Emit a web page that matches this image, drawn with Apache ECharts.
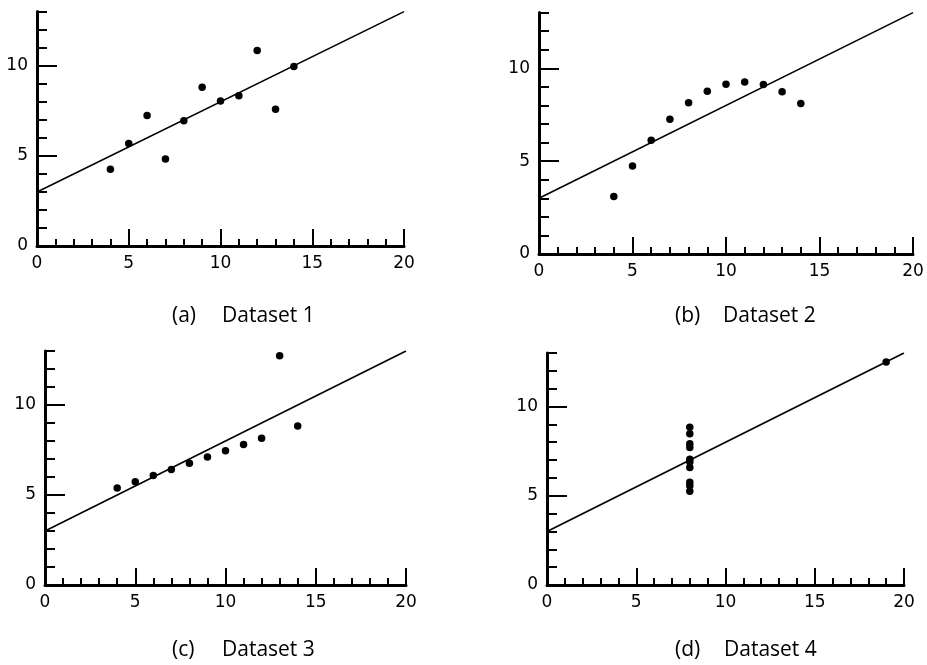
<!DOCTYPE html>
<html>
<head>
<meta charset="utf-8">
<script src="https://cdn.jsdelivr.net/npm/echarts@6/dist/echarts.min.js"></script>
<style>
html,body{margin:0;padding:0;background:#fff;}
#main{width:927px;height:665px;}
</style>
</head>
<body>
<div id="main"></div>
<script>
// Anscombe's quartet values
var x123 = [10, 8, 13, 9, 11, 14, 6, 4, 12, 7, 5];
var y1 = [8.04, 6.95, 7.58, 8.81, 8.33, 9.96, 7.24, 4.26, 10.84, 4.82, 5.68];
var y2 = [9.14, 8.14, 8.74, 8.77, 9.26, 8.10, 6.13, 3.10, 9.13, 7.26, 4.74];
var y3 = [7.46, 6.77, 12.74, 7.11, 7.81, 8.84, 6.08, 5.39, 8.15, 6.42, 5.73];
var x4 = [8, 8, 8, 8, 8, 8, 8, 19, 8, 8, 8];
var y4 = [6.58, 5.76, 7.71, 8.84, 8.47, 7.04, 5.25, 12.50, 5.56, 7.91, 6.89];
var fitX = [0, 20];
var fitY = [3, 13];
var xTicks = [0, 5, 10, 15, 20];
var yTicks = [0, 5, 10];
var labels = ['(a)', '(b)', '(c)', '(d)'];
var titles = ['Dataset 1', 'Dataset 2', 'Dataset 3', 'Dataset 4'];

var panels = [
  {x: x123, y: y1},
  {x: x123, y: y2},
  {x: x123, y: y3},
  {x: x4, y: y4}
];
var grids = [
  {left: 37, top: 11.6, width: 367, height: 234.4},
  {left: 539, top: 12.6, width: 374, height: 241.4},
  {left: 45, top: 351, width: 361, height: 234},
  {left: 547, top: 353, width: 357, height: 232}
];
var captionPos = [
  {a: 172, b: 222, y: 316},
  {a: 675, b: 723, y: 316},
  {a: 172, b: 222, y: 650},
  {a: 675, b: 724, y: 650}
];

function pairs(xs, ys) {
  return xs.map(function (v, i) { return [v, ys[i]]; });
}

var xAxes = [], yAxes = [], series = [], graphics = [];
var labelFont = {color: '#000', fontSize: 17, fontFamily: 'DejaVu Sans'};
grids.forEach(function (g, i) {
  xAxes.push({
    gridIndex: i, type: 'value', position: 'bottom', min: 0, max: 20, interval: 5,
    splitLine: {show: false},
    axisLine: {show: true, onZero: false, lineStyle: {color: '#000', width: 3}},
    axisTick: {show: true, inside: true, length: 17, customValues: xTicks, lineStyle: {color: '#000', width: 2}},
    axisLabel: Object.assign({margin: 9, customValues: xTicks}, labelFont)
  });
  xAxes.push({
    gridIndex: i, type: 'value', position: 'bottom', min: 0, max: 20, interval: 1,
    splitLine: {show: false},
    axisLine: {show: false, onZero: false},
    axisTick: {show: true, inside: true, length: 7, lineStyle: {color: '#000', width: 2}},
    axisLabel: {show: false}
  });
  yAxes.push({
    gridIndex: i, type: 'value', position: 'left', min: 0, max: 13, interval: 5,
    splitLine: {show: false},
    axisLine: {show: true, onZero: false, lineStyle: {color: '#000', width: 3}},
    axisTick: {show: true, inside: true, length: 20, customValues: yTicks, lineStyle: {color: '#000', width: 2}},
    axisLabel: Object.assign({margin: 9, customValues: yTicks}, labelFont)
  });
  yAxes.push({
    gridIndex: i, type: 'value', position: 'left', min: 0, max: 13, interval: 1,
    splitLine: {show: false},
    axisLine: {show: false, onZero: false},
    axisTick: {show: true, inside: true, length: 10, lineStyle: {color: '#000', width: 2}},
    axisLabel: {show: false}
  });
  series.push({
    type: 'line', xAxisIndex: 2 * i, yAxisIndex: 2 * i,
    data: pairs(fitX, fitY), showSymbol: false, silent: true,
    lineStyle: {color: '#000', width: 1.6}
  });
  series.push({
    type: 'scatter', xAxisIndex: 2 * i, yAxisIndex: 2 * i,
    data: pairs(panels[i].x, panels[i].y), symbolSize: 7.5,
    itemStyle: {color: '#000', opacity: 1}
  });
  var c = captionPos[i];
  graphics.push({
    type: 'text', x: c.a, y: c.y,
    style: {text: labels[i], fill: '#000', font: '21px "Open Sans"', verticalAlign: 'middle'}
  });
  graphics.push({
    type: 'text', x: c.b, y: c.y,
    style: {text: titles[i], fill: '#000', font: '21px "Open Sans"', verticalAlign: 'middle'}
  });
});

var chart = echarts.init(document.getElementById('main'), null, {renderer: 'canvas'});
chart.setOption({
  animation: false,
  backgroundColor: '#fff',
  grid: grids.map(function (g) { return Object.assign({containLabel: false}, g); }),
  xAxis: xAxes,
  yAxis: yAxes,
  series: series,
  graphic: graphics
});
</script>
</body>
</html>
